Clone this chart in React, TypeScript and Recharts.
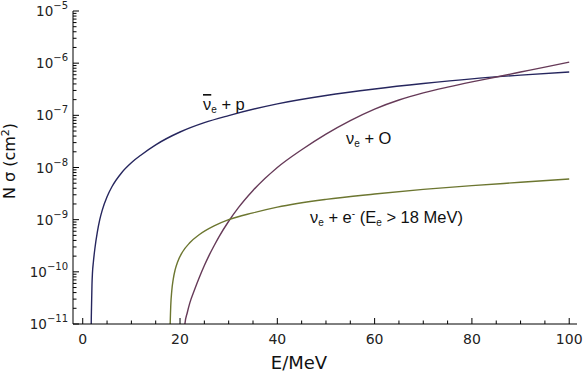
import React from "react";
import { LineChart, Line, XAxis, YAxis } from "recharts";

// anti-nu_e + p (inverse beta decay), N sigma in cm^2
const ibdE = [1.7, 1.75, 1.8, 1.9, 2.0, 2.2, 2.5, 3.0, 3.5, 4, 5, 6, 8, 10, 12, 15, 20, 25, 30, 40, 50, 60, 70, 80, 90, 100];
const ibdSigma = [
  1e-12, 1e-11, 2.0e-11, 5.6e-11, 9.5e-11, 1.58e-10, 2.8e-10, 5.75e-10, 1.0e-9, 1.51e-9,
  2.75e-9, 4.27e-9, 7.94e-9, 1.23e-8, 1.74e-8, 2.72e-8, 4.79e-8, 7.24e-8, 9.89e-8, 1.66e-7,
  2.4e-7, 3.2e-7, 4.07e-7, 5.01e-7, 5.89e-7, 6.76e-7,
];

// nu_e + O
const oxyE = [20.9, 21.0, 21.5, 22, 23, 24, 25, 26, 27, 28, 30, 32, 35, 40, 45, 50, 55, 60, 65, 70, 75, 80, 85, 90, 95, 100];
const oxySigma = [
  1e-12, 1e-11, 1.66e-11, 2.51e-11, 4.57e-11, 7.94e-11, 1.32e-10, 2.09e-10, 3.16e-10, 4.68e-10,
  9.33e-10, 1.7e-9, 3.63e-9, 1.0e-8, 2.19e-8, 4.37e-8, 7.94e-8, 1.32e-7, 1.97e-7, 2.69e-7,
  3.47e-7, 4.37e-7, 5.43e-7, 6.76e-7, 8.41e-7, 1.05e-6,
];

// nu_e + e- (Ee > 18 MeV)
const elasE = [17.9, 17.95, 18.0, 18.1, 18.3, 18.6, 19, 19.5, 20.5, 22, 24, 27, 30, 35, 40, 50, 60, 70, 80, 90, 100];
const elasSigma = [
  1e-12, 7e-12, 1.2e-11, 2.3e-11, 4.3e-11, 7.2e-11, 1.1e-10, 1.55e-10, 2.4e-10, 3.6e-10,
  5.2e-10, 7.6e-10, 1.0e-9, 1.35e-9, 1.74e-9, 2.45e-9, 3.1e-9, 3.8e-9, 4.5e-9, 5.2e-9, 6.0e-9,
];

const xMajor = [0, 20, 40, 60, 80, 100];
const xMinor = [5, 10, 15, 25, 30, 35, 45, 50, 55, 65, 70, 75, 85, 90, 95];
const yExponents = [-11, -10, -9, -8, -7, -6, -5];
const yMantissas = [1, 2, 3, 4, 5, 6, 7, 8, 9];

const xTicks = [...xMajor, ...xMinor].sort((a, b) => a - b);
const yTicks = yExponents.flatMap((d) =>
  d === -5 ? [1e-5] : yMantissas.map((m) => Number(`${m}e${d}`))
);

const ibdData = ibdE.map((E, i) => ({ E, v: ibdSigma[i] }));
const oxyData = oxyE.map((E, i) => ({ E, v: oxySigma[i] }));
const elasData = elasE.map((E, i) => ({ E, v: elasSigma[i] }));

const TICK_FONT = "'DejaVu Sans', sans-serif";
const LABEL_FONT = "'Liberation Sans', Arial, sans-serif";

const isMajorY = (v: number) => Math.abs(Math.log10(v) - Math.round(Math.log10(v))) < 1e-6;

const BottomTick = (props: any) => {
  const { x, y, payload } = props;
  const major = xMajor.includes(payload.value);
  return (
    <g>
      <line x1={x} x2={x} y1={y} y2={y - (major ? 6 : 3.5)} stroke="#000" />
      {major && (
        <text x={x} y={y + 20} textAnchor="middle" fontSize={14} fontFamily={TICK_FONT} fill="#222">
          {payload.value}
        </text>
      )}
    </g>
  );
};

const TopTick = (props: any) => {
  const { x, y, payload } = props;
  const major = xMajor.includes(payload.value);
  return <line x1={x} x2={x} y1={y} y2={y + (major ? 6 : 3.5)} stroke="#000" />;
};

const LeftTick = (props: any) => {
  const { x, y, payload } = props;
  const major = isMajorY(payload.value);
  const exp = Math.round(Math.log10(payload.value));
  return (
    <g>
      <line x1={x} x2={x + (major ? 6 : 3.5)} y1={y} y2={y} stroke="#000" />
      {major && (
        <text x={x - 5} y={y + 5} textAnchor="end" fontSize={13.5} fontFamily={TICK_FONT} fill="#222">
          10
          <tspan dy={-7} fontSize={10}>
            {"\u2212" + String(-exp)}
          </tspan>
        </text>
      )}
    </g>
  );
};

const RightTick = (props: any) => {
  const { x, y, payload } = props;
  const major = isMajorY(payload.value);
  return <line x1={x} x2={x - (major ? 6 : 3.5)} y1={y} y2={y} stroke="#000" />;
};

export default function App() {
  return (
    <div style={{ position: "absolute", left: 0, top: 0, width: 583, height: 373, background: "#fff" }}>
      <LineChart width={583} height={373} margin={{ top: 11, right: 6, bottom: 0, left: 0 }}>
        <XAxis
          xAxisId="b"
          dataKey="E"
          type="number"
          domain={[-2, 101.6]}
          ticks={xTicks}
          interval={0}
          tickSize={0}
          tickMargin={0}
          tickLine={false}
          tick={<BottomTick />}
          axisLine={{ stroke: "#000" }}
          height={49}
          allowDataOverflow
        />
        <XAxis
          xAxisId="t"
          orientation="top"
          dataKey="E"
          type="number"
          domain={[-2, 101.6]}
          ticks={xTicks}
          interval={0}
          tickSize={0}
          tickMargin={0}
          tickLine={false}
          tick={<TopTick />}
          axisLine={{ stroke: "#000" }}
          height={0}
          allowDataOverflow
        />
        <YAxis
          yAxisId="l"
          scale="log"
          type="number"
          domain={[1e-11, 1e-5]}
          ticks={yTicks}
          interval={0}
          tickSize={0}
          tickMargin={0}
          tickLine={false}
          tick={<LeftTick />}
          axisLine={{ stroke: "#000" }}
          width={73}
          allowDataOverflow
        />
        <YAxis
          yAxisId="r"
          orientation="right"
          scale="log"
          type="number"
          domain={[1e-11, 1e-5]}
          ticks={yTicks}
          interval={0}
          tickSize={0}
          tickMargin={0}
          tickLine={false}
          tick={<RightTick />}
          axisLine={{ stroke: "#000" }}
          width={0}
          allowDataOverflow
        />
        <Line
          data={ibdData}
          dataKey="v"
          xAxisId="b"
          yAxisId="l"
          type="monotone"
          dot={false}
          stroke="#26265e"
          strokeWidth={1.4}
          isAnimationActive={false}
        />
        <Line
          data={oxyData}
          dataKey="v"
          xAxisId="b"
          yAxisId="l"
          type="monotone"
          dot={false}
          stroke="#663a58"
          strokeWidth={1.4}
          isAnimationActive={false}
        />
        <Line
          data={elasData}
          dataKey="v"
          xAxisId="b"
          yAxisId="l"
          type="monotone"
          dot={false}
          stroke="#6c7630"
          strokeWidth={1.4}
          isAnimationActive={false}
        />
      </LineChart>
      <svg
        width={583}
        height={373}
        style={{ position: "absolute", left: 0, top: 0, pointerEvents: "none" }}
      >
        <text x={299} y={369} textAnchor="middle" fontSize={18} fontFamily={TICK_FONT} fill="#111">
          E/MeV
        </text>
        <text
          transform="translate(15,161) rotate(-90)"
          textAnchor="middle"
          fontSize={16}
          fontFamily={TICK_FONT}
          fill="#111"
        >
          N σ (cm
          <tspan dy={-6} fontSize={11}>2</tspan>
          <tspan dy={6}>)</tspan>
        </text>
        <text x={203} y={110} fontSize={16.5} fontFamily={LABEL_FONT} fill="#111">
          <tspan textDecoration="overline">ν</tspan>
          <tspan dy={3} fontSize={10}>e</tspan>
          <tspan dy={-3}> + p</tspan>
        </text>
        <text x={346} y={143.5} fontSize={16.5} fontFamily={LABEL_FONT} fill="#111">
          ν<tspan dy={3} fontSize={10}>e</tspan>
          <tspan dy={-3}> + O</tspan>
        </text>
        <text x={310} y={222.5} fontSize={16.5} fontFamily={LABEL_FONT} fill="#111">
          ν<tspan dy={3} fontSize={10}>e</tspan>
          <tspan dy={-3}> + e</tspan>
          <tspan dy={-6} fontSize={10}>-</tspan>
          <tspan dy={6}> (E</tspan>
          <tspan dy={3} fontSize={10}>e</tspan>
          <tspan dy={-3}> &gt; 18 MeV)</tspan>
        </text>
      </svg>
    </div>
  );
}
